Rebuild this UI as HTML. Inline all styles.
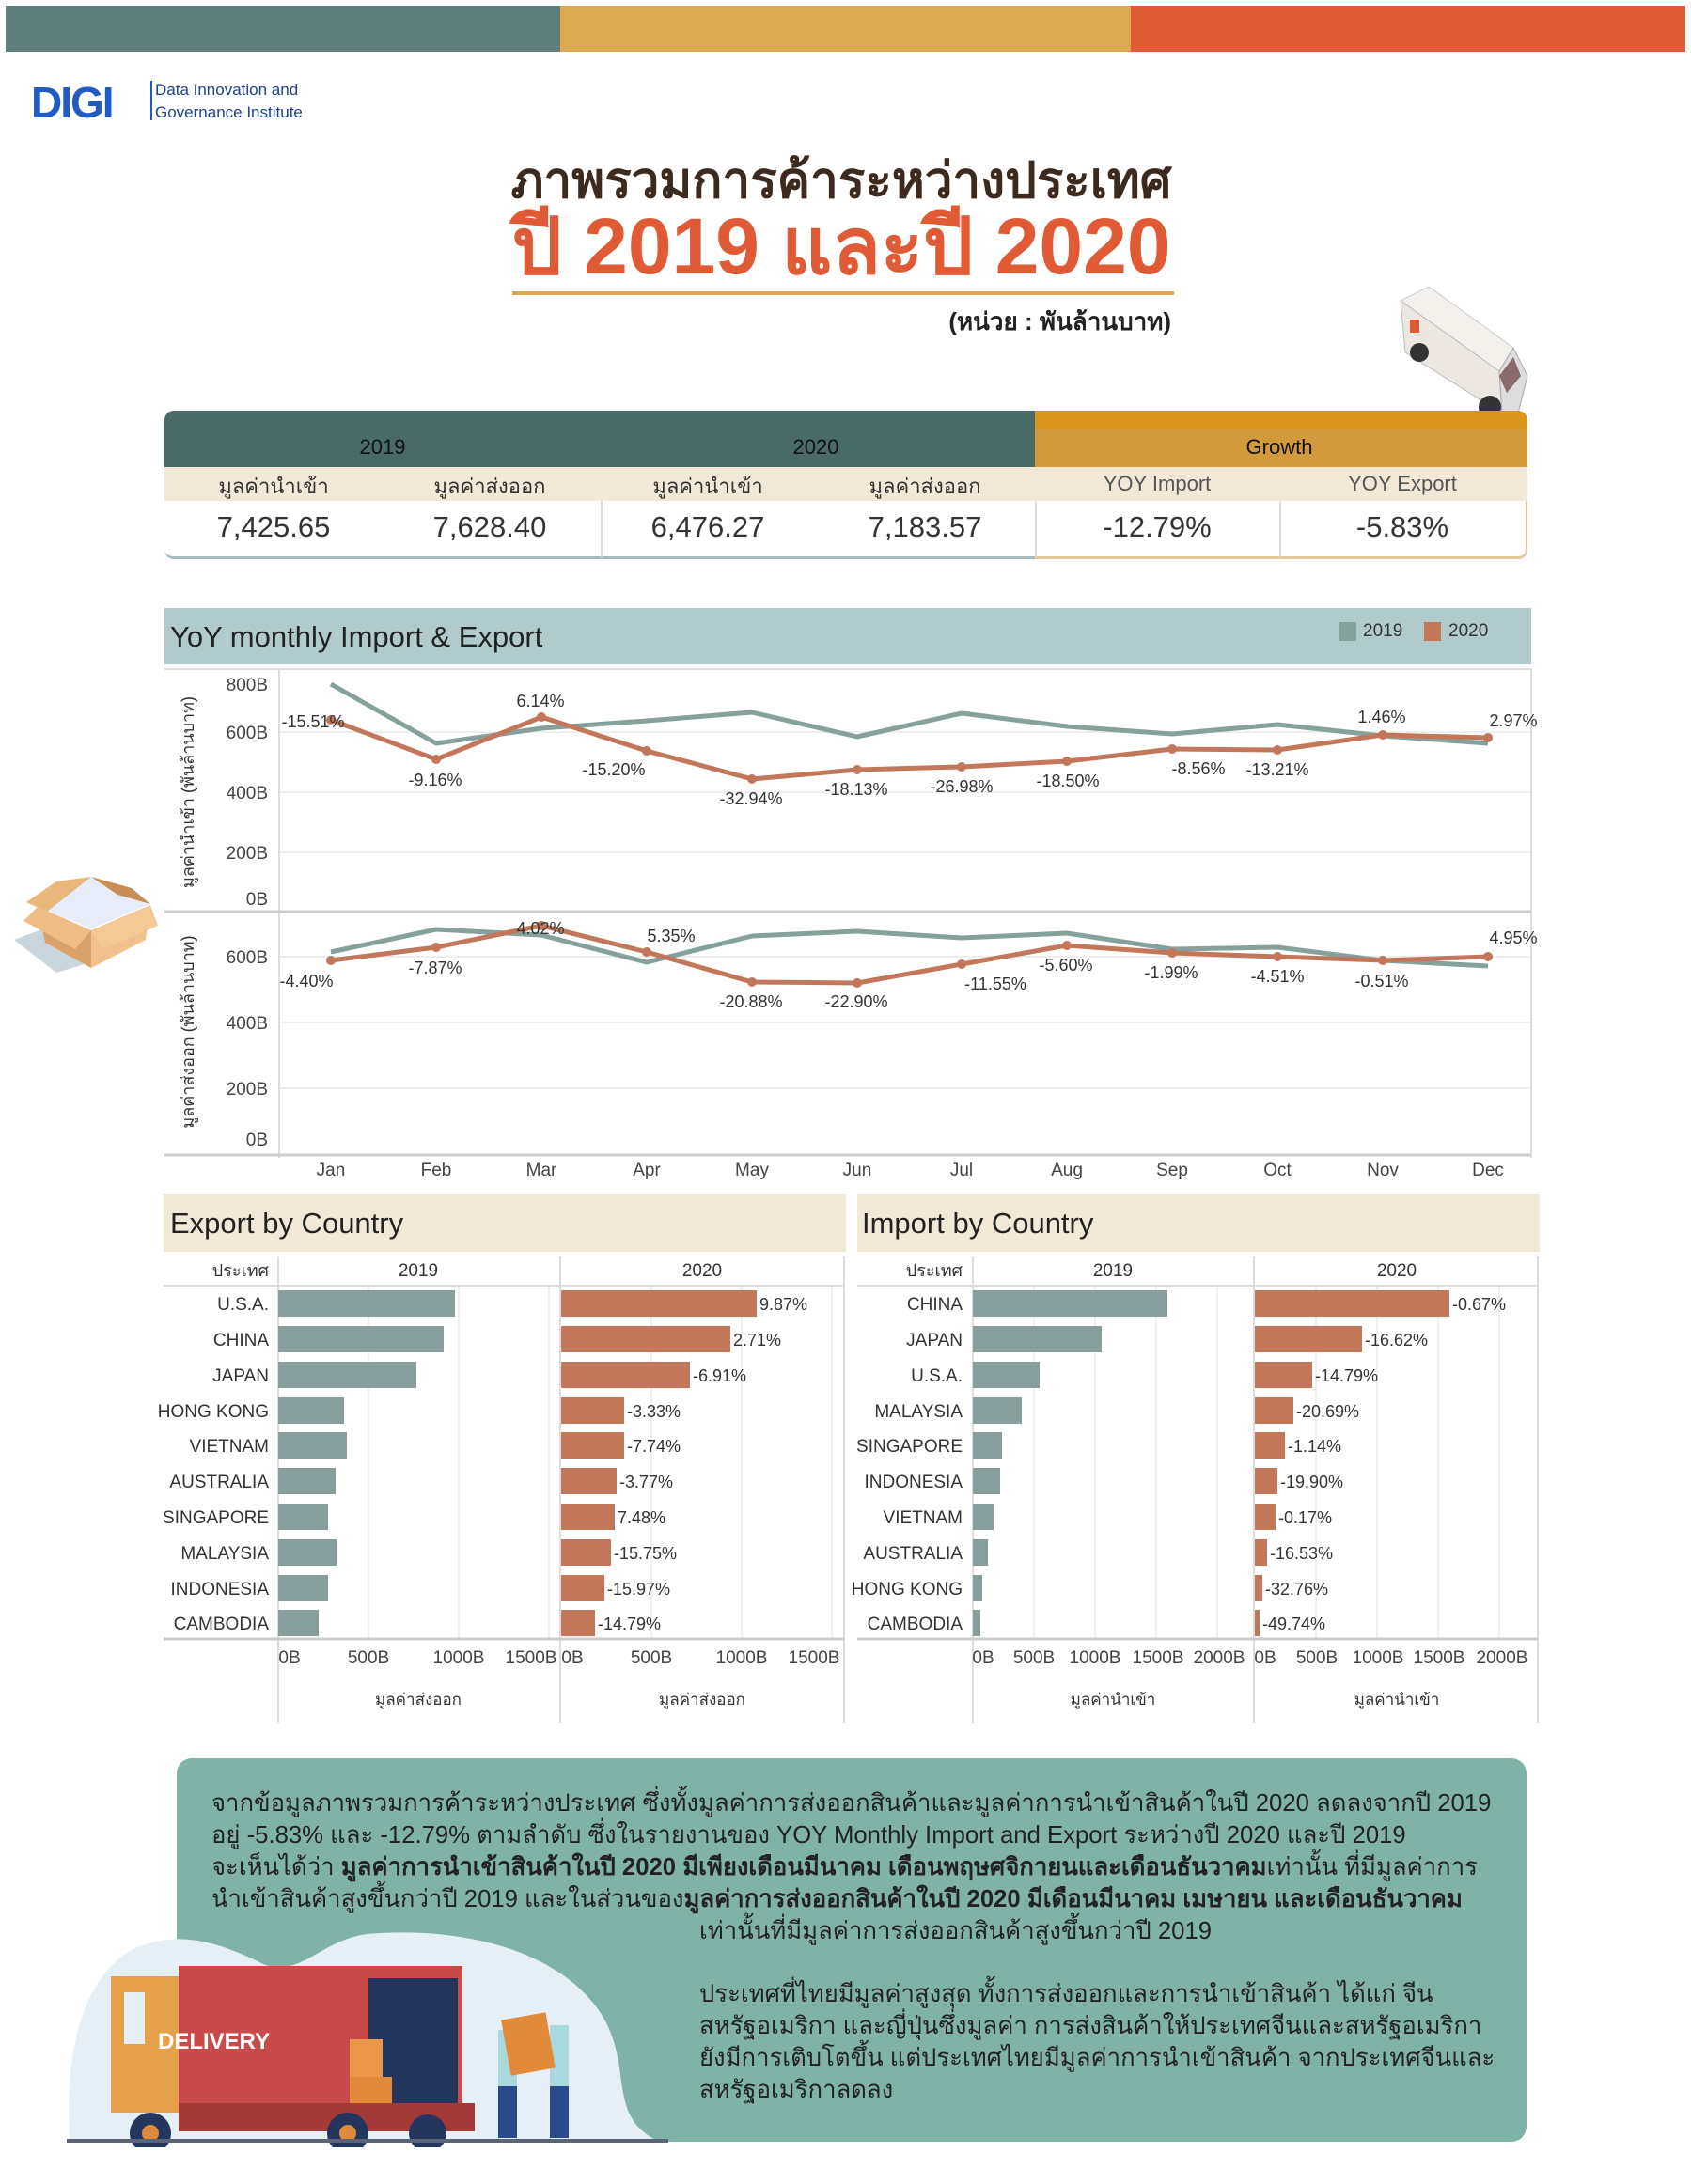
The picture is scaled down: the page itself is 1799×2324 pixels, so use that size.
<!DOCTYPE html>
<html><head><meta charset="utf-8">
<style>
*{margin:0;padding:0;box-sizing:border-box}
body{width:1799px;height:2324px;background:#fff;position:relative;overflow:hidden;font-family:"Liberation Sans",sans-serif;color:#333}
.a{position:absolute;white-space:nowrap}
.n{font-family:"Liberation Sans Narrow","Liberation Sans",sans-serif}
.c{transform:translateX(-50%)}
.r{transform:translateX(-100%)}
.p{position:absolute;white-space:nowrap;font-size:25.7px;color:#222;left:225px;font-family:"Liberation Sans Narrow","Liberation Sans",sans-serif}
</style></head><body>
<!-- top bars -->
<div class="a" style="left:6px;top:6px;width:590px;height:49px;background:#5e807d"></div>
<div class="a" style="left:596px;top:6px;width:607px;height:49px;background:#dcaa4e"></div>
<div class="a" style="left:1203px;top:6px;width:590px;height:49px;background:#e05a35"></div>

<!-- logo -->
<div class="a" style="left:33px;top:82px;font:bold 46px 'Liberation Sans',sans-serif;color:#1f5bc2;letter-spacing:-2px">DIGI</div>
<div class="a" style="left:160px;top:86px;width:2px;height:42px;background:#1f5bc2"></div>
<div class="a n" style="left:165px;top:84px;font-size:17px;color:#1f3f8f;line-height:24px">Data Innovation and<br>Governance Institute</div>

<!-- title -->
<div class="a c" style="left:895px;top:150px;font-size:53px;font-weight:bold;color:#3d2a1f;font-family:'Liberation Sans Narrow','Liberation Sans',sans-serif">ภาพรวมการค้าระหว่างประเทศ</div>
<div class="a c" style="left:895px;top:212px;font-size:84px;font-weight:bold;color:#e05a35;font-family:'Liberation Sans Narrow','Liberation Sans',sans-serif;line-height:100px">ปี 2019 และปี 2020</div>
<div class="a" style="left:545px;top:310px;width:704px;height:4px;background:#dcaa4e"></div>
<div class="a r" style="left:1246px;top:322px;font-size:26px;font-weight:bold;color:#222">(หน่วย : พันล้านบาท)</div>

<!-- van -->
<svg class="a" style="left:1470px;top:300px" width="180" height="160">
<polygon points="20,20 50,5 140,70 125,95" fill="#f4f1ec" stroke="#ccc"/>
<polygon points="20,20 125,95 128,140 25,75" fill="#ece8e1" stroke="#bbb"/>
<polygon points="125,95 140,70 155,100 145,140 128,140" fill="#ddd" stroke="#aaa"/>
<rect x="30" y="40" width="10" height="14" fill="#e05a35"/>
<circle cx="40" cy="75" r="10" fill="#333"/><circle cx="115" cy="133" r="12" fill="#333"/>
<polygon points="125,100 140,80 148,100 133,118" fill="#8a6a6a"/>
</svg>

<!-- table -->
<div class="a" style="left:175px;top:437px;width:926px;height:60px;background:#486b68;border-radius:10px 0 0 0"></div>
<div class="a" style="left:1101px;top:437px;width:524px;height:20px;background:#d9961c;border-radius:0 10px 0 0"></div>
<div class="a" style="left:1101px;top:457px;width:524px;height:40px;background:#d39a3c"></div>
<div class="a" style="left:175px;top:497px;width:1450px;height:36px;background:#f2e8d8"></div>
<div class="a" style="left:175px;top:533px;width:1450px;height:62px;background:#fff;border-bottom:3px solid #a8bcc0;border-radius:0 0 10px 10px"></div>
<div class="a" style="left:1101px;top:533px;width:524px;height:62px;border-bottom:3px solid #e3c99a;border-right:2px solid #e3c99a;border-radius:0 0 10px 0"></div>
<div class="a" style="left:639px;top:533px;width:2px;height:60px;background:#ddd"></div>
<div class="a" style="left:1101px;top:533px;width:2px;height:60px;background:#ddd"></div>
<div class="a" style="left:1361px;top:533px;width:2px;height:60px;background:#ddd"></div>
<div class="a c" style="left:407px;top:463px;font-size:22px;color:#111">2019</div>
<div class="a c" style="left:868px;top:463px;font-size:22px;color:#111">2020</div>
<div class="a c" style="left:1361px;top:463px;font-size:22px;color:#111">Growth</div>
<div class="a c" style="left:291px;top:500px;font-size:22px">มูลค่านำเข้า</div>
<div class="a c" style="left:521px;top:500px;font-size:22px">มูลค่าส่งออก</div>
<div class="a c" style="left:753px;top:500px;font-size:22px">มูลค่านำเข้า</div>
<div class="a c" style="left:984px;top:500px;font-size:22px">มูลค่าส่งออก</div>
<div class="a c" style="left:1231px;top:502px;font-size:22px;color:#555">YOY Import</div>
<div class="a c" style="left:1492px;top:502px;font-size:22px;color:#555">YOY Export</div>
<div class="a c" style="left:291px;top:543px;font-size:31px">7,425.65</div>
<div class="a c" style="left:521px;top:543px;font-size:31px">7,628.40</div>
<div class="a c" style="left:753px;top:543px;font-size:31px">6,476.27</div>
<div class="a c" style="left:984px;top:543px;font-size:31px">7,183.57</div>
<div class="a c" style="left:1231px;top:543px;font-size:31px">-12.79%</div>
<div class="a c" style="left:1492px;top:543px;font-size:31px">-5.83%</div>

<!-- line chart header -->
<div class="a" style="left:175px;top:647px;width:1454px;height:60px;background:#b1cbcd"></div>
<div class="a" style="left:181px;top:660px;font-size:31px;color:#222">YoY monthly Import &amp; Export</div>
<div class="a" style="left:1425px;top:662px;width:18px;height:20px;background:#86a09c"></div>
<div class="a" style="left:1450px;top:661px;font-size:19px">2019</div>
<div class="a" style="left:1515px;top:662px;width:18px;height:20px;background:#c2775b"></div>
<div class="a" style="left:1541px;top:661px;font-size:19px">2020</div>

<!-- box icon -->
<svg class="a" style="left:0;top:900px" width="200" height="160">
<polygon points="15,100 55,85 110,120 60,135" fill="#c9d6de"/>
<polygon points="28,60 97,33 160,62 97,88" fill="#e8ecf8"/>
<polygon points="40,65 97,90 97,130 48,103" fill="#d8a26a"/>
<polygon points="97,90 160,63 155,100 97,130" fill="#f2c08c"/>
<polygon points="28,60 60,38 97,33 50,70" fill="#e9b67c"/>
<polygon points="97,33 140,45 160,62 125,52" fill="#c98e55"/>
<polygon points="40,65 97,90 80,110 25,80" fill="#efbd87"/>
<polygon points="97,90 160,63 168,85 110,110" fill="#f5c996"/>
</svg>

<!-- line chart svg -->
<svg class="a" style="left:0;top:0" width="1799" height="1300" font-family="Liberation Sans Narrow, Liberation Sans, sans-serif">
<g stroke="#eee" stroke-width="2">
<line x1="297" y1="779" x2="1629" y2="779"/><line x1="297" y1="843" x2="1629" y2="843"/><line x1="297" y1="907" x2="1629" y2="907"/>
<line x1="297" y1="1018" x2="1629" y2="1018"/><line x1="297" y1="1088" x2="1629" y2="1088"/><line x1="297" y1="1158" x2="1629" y2="1158"/>
</g>
<line x1="175" y1="712" x2="1629" y2="712" stroke="#ddd" stroke-width="2"/>
<line x1="297" y1="712" x2="297" y2="1232" stroke="#ddd" stroke-width="2"/>
<line x1="1629" y1="712" x2="1629" y2="1232" stroke="#ddd" stroke-width="2"/>
<line x1="175" y1="970" x2="1629" y2="970" stroke="#ccc" stroke-width="3"/>
<line x1="175" y1="1229" x2="1629" y2="1229" stroke="#ccc" stroke-width="3"/>
<g font-size="19" fill="#444" text-anchor="end">
<text x="285" y="735">800B</text><text x="285" y="786">600B</text><text x="285" y="850">400B</text><text x="285" y="914">200B</text><text x="285" y="963">0B</text>
<text x="285" y="1025">600B</text><text x="285" y="1095">400B</text><text x="285" y="1165">200B</text><text x="285" y="1219">0B</text>
</g>
<text transform="translate(206,843) rotate(-90)" font-size="18" fill="#333" text-anchor="middle">มูลค่านำเข้า (พันล้านบาท)</text>
<text transform="translate(206,1098) rotate(-90)" font-size="18" fill="#333" text-anchor="middle">มูลค่าส่งออก (พันล้านบาท)</text>
<g fill="none" stroke-width="5" stroke-linejoin="round">
<polyline stroke="#86a09c" points="352,728 464,791 576,775 688,767 800,758 912,784 1023,759 1135,773 1247,781 1359,771 1471,783 1583,791"/>
<polyline stroke="#c2775b" points="352,766 464,808 576,763 688,799 800,829 912,819 1023,816 1135,810 1247,797 1359,798 1471,782 1583,785"/>
<polyline stroke="#86a09c" points="352,1013 464,989 576,995 688,1024 800,996 912,991 1023,998 1135,993 1247,1010 1359,1008 1471,1022 1583,1028"/>
<polyline stroke="#c2775b" points="352,1022 464,1008 576,985 688,1013 800,1045 912,1046 1023,1026 1135,1006 1247,1014 1359,1018 1471,1022 1583,1018"/>
</g>
<g fill="#c2775b">
<circle cx="352" cy="766" r="5"/><circle cx="464" cy="808" r="5"/><circle cx="576" cy="763" r="5"/><circle cx="688" cy="799" r="5"/><circle cx="800" cy="829" r="5"/><circle cx="912" cy="819" r="5"/><circle cx="1023" cy="816" r="5"/><circle cx="1135" cy="810" r="5"/><circle cx="1247" cy="797" r="5"/><circle cx="1359" cy="798" r="5"/><circle cx="1471" cy="782" r="5"/><circle cx="1583" cy="785" r="5"/>
<circle cx="352" cy="1022" r="5"/><circle cx="464" cy="1008" r="5"/><circle cx="576" cy="985" r="5"/><circle cx="688" cy="1013" r="5"/><circle cx="800" cy="1045" r="5"/><circle cx="912" cy="1046" r="5"/><circle cx="1023" cy="1026" r="5"/><circle cx="1135" cy="1006" r="5"/><circle cx="1247" cy="1014" r="5"/><circle cx="1359" cy="1018" r="5"/><circle cx="1471" cy="1022" r="5"/><circle cx="1583" cy="1018" r="5"/>
</g>
<g font-size="18" fill="#333" text-anchor="middle">
<text x="333" y="774">-15.51%</text><text x="463" y="836">-9.16%</text><text x="575" y="752">6.14%</text><text x="653" y="825">-15.20%</text><text x="799" y="856">-32.94%</text><text x="911" y="846">-18.13%</text><text x="1023" y="843">-26.98%</text><text x="1136" y="837">-18.50%</text><text x="1275" y="824">-8.56%</text><text x="1359" y="825">-13.21%</text><text x="1470" y="769">1.46%</text><text x="1610" y="773">2.97%</text>
<text x="326" y="1050">-4.40%</text><text x="463" y="1036">-7.87%</text><text x="575" y="994">4.02%</text><text x="714" y="1002">5.35%</text><text x="799" y="1072">-20.88%</text><text x="911" y="1072">-22.90%</text><text x="1059" y="1053">-11.55%</text><text x="1134" y="1033">-5.60%</text><text x="1246" y="1041">-1.99%</text><text x="1359" y="1045">-4.51%</text><text x="1470" y="1050">-0.51%</text><text x="1610" y="1004">4.95%</text>
</g>
<g font-size="19" fill="#444" text-anchor="middle">
<text x="352" y="1251">Jan</text><text x="464" y="1251">Feb</text><text x="576" y="1251">Mar</text><text x="688" y="1251">Apr</text><text x="800" y="1251">May</text><text x="912" y="1251">Jun</text><text x="1023" y="1251">Jul</text><text x="1135" y="1251">Aug</text><text x="1247" y="1251">Sep</text><text x="1359" y="1251">Oct</text><text x="1471" y="1251">Nov</text><text x="1583" y="1251">Dec</text>
</g>
</svg>

<!-- bar charts -->
<div class="a" style="left:174px;top:1271px;width:726px;height:61px;background:#f2e8d8"></div>
<div class="a" style="left:912px;top:1271px;width:726px;height:61px;background:#f2e8d8"></div>
<div class="a" style="left:181px;top:1284px;font-size:31px;color:#222">Export by Country</div>
<div class="a" style="left:917px;top:1284px;font-size:31px;color:#222">Import by Country</div>
<svg class="a" style="left:0;top:1330px" width="1799" height="520" font-family="Liberation Sans Narrow, Liberation Sans, sans-serif">
<g stroke="#f0f0f0" stroke-width="2">
<line x1="392" y1="38" x2="392" y2="414"/><line x1="488" y1="38" x2="488" y2="414"/><line x1="584" y1="38" x2="584" y2="414"/>
<line x1="693" y1="38" x2="693" y2="414"/><line x1="789" y1="38" x2="789" y2="414"/><line x1="885" y1="38" x2="885" y2="414"/>
<line x1="1100" y1="38" x2="1100" y2="414"/><line x1="1165" y1="38" x2="1165" y2="414"/><line x1="1230" y1="38" x2="1230" y2="414"/><line x1="1295" y1="38" x2="1295" y2="414"/>
<line x1="1400" y1="38" x2="1400" y2="414"/><line x1="1465" y1="38" x2="1465" y2="414"/><line x1="1530" y1="38" x2="1530" y2="414"/><line x1="1595" y1="38" x2="1595" y2="414"/>
</g>
<g stroke="#ddd" stroke-width="2">
<line x1="296" y1="7" x2="296" y2="503"/><line x1="596" y1="7" x2="596" y2="503"/><line x1="898" y1="7" x2="898" y2="503"/>
<line x1="1035" y1="7" x2="1035" y2="503"/><line x1="1334" y1="7" x2="1334" y2="503"/><line x1="1636" y1="7" x2="1636" y2="503"/>
<line x1="174" y1="38" x2="898" y2="38"/><line x1="912" y1="38" x2="1636" y2="38"/>
</g>
<g stroke="#ccc" stroke-width="3"><line x1="174" y1="414" x2="898" y2="414"/><line x1="912" y1="414" x2="1636" y2="414"/></g>
<g font-size="19" fill="#333" text-anchor="middle">
<text x="445" y="28">2019</text><text x="747" y="28">2020</text><text x="1184" y="28">2019</text><text x="1486" y="28">2020</text>
<text x="445" y="484" font-size="17">มูลค่าส่งออก</text><text x="747" y="484" font-size="17">มูลค่าส่งออก</text><text x="1184" y="484" font-size="17">มูลค่านำเข้า</text><text x="1486" y="484" font-size="17">มูลค่านำเข้า</text>
</g>
<g font-size="18" fill="#333" text-anchor="end"><text x="286" y="28">ประเทศ</text><text x="1024" y="28">ประเทศ</text></g>
<g font-size="19" fill="#444" text-anchor="middle">
<text x="308" y="440">0B</text><text x="392" y="440">500B</text><text x="488" y="440">1000B</text><text x="565" y="440">1500B</text>
<text x="609" y="440">0B</text><text x="693" y="440">500B</text><text x="789" y="440">1000B</text><text x="866" y="440">1500B</text>
<text x="1046" y="440">0B</text><text x="1100" y="440">500B</text><text x="1165" y="440">1000B</text><text x="1232" y="440">1500B</text><text x="1297" y="440">2000B</text>
<text x="1346" y="440">0B</text><text x="1401" y="440">500B</text><text x="1466" y="440">1000B</text><text x="1531" y="440">1500B</text><text x="1598" y="440">2000B</text>
</g>
<g font-size="19" fill="#333" text-anchor="end">
<text x="286" y="64">U.S.A.</text><text x="286" y="102">CHINA</text><text x="286" y="140">JAPAN</text><text x="286" y="178">HONG KONG</text><text x="286" y="215">VIETNAM</text><text x="286" y="253">AUSTRALIA</text><text x="286" y="291">SINGAPORE</text><text x="286" y="329">MALAYSIA</text><text x="286" y="367">INDONESIA</text><text x="286" y="404">CAMBODIA</text>
<text x="1024" y="64">CHINA</text><text x="1024" y="102">JAPAN</text><text x="1024" y="140">U.S.A.</text><text x="1024" y="178">MALAYSIA</text><text x="1024" y="215">SINGAPORE</text><text x="1024" y="253">INDONESIA</text><text x="1024" y="291">VIETNAM</text><text x="1024" y="329">AUSTRALIA</text><text x="1024" y="367">HONG KONG</text><text x="1024" y="404">CAMBODIA</text>
</g>
<g fill="#879e9c">
<rect x="296" y="43" width="188" height="28"/><rect x="296" y="81" width="176" height="28"/><rect x="296" y="119" width="147" height="28"/><rect x="296" y="157" width="70" height="28"/><rect x="296" y="194" width="73" height="28"/><rect x="296" y="232" width="61" height="28"/><rect x="296" y="270" width="53" height="28"/><rect x="296" y="308" width="62" height="28"/><rect x="296" y="346" width="53" height="28"/><rect x="296" y="383" width="43" height="28"/>
<rect x="1035" y="43" width="207" height="28"/><rect x="1035" y="81" width="137" height="28"/><rect x="1035" y="119" width="71" height="28"/><rect x="1035" y="157" width="52" height="28"/><rect x="1035" y="194" width="31" height="28"/><rect x="1035" y="232" width="29" height="28"/><rect x="1035" y="270" width="22" height="28"/><rect x="1035" y="308" width="16" height="28"/><rect x="1035" y="346" width="10" height="28"/><rect x="1035" y="383" width="8" height="28"/>
</g>
<g fill="#c2775b">
<rect x="597" y="43" width="208" height="28"/><rect x="597" y="81" width="180" height="28"/><rect x="597" y="119" width="137" height="28"/><rect x="597" y="157" width="67" height="28"/><rect x="597" y="194" width="67" height="28"/><rect x="597" y="232" width="59" height="28"/><rect x="597" y="270" width="57" height="28"/><rect x="597" y="308" width="53" height="28"/><rect x="597" y="346" width="46" height="28"/><rect x="597" y="383" width="36" height="28"/>
<rect x="1335" y="43" width="207" height="28"/><rect x="1335" y="81" width="114" height="28"/><rect x="1335" y="119" width="61" height="28"/><rect x="1335" y="157" width="41" height="28"/><rect x="1335" y="194" width="32" height="28"/><rect x="1335" y="232" width="24" height="28"/><rect x="1335" y="270" width="22" height="28"/><rect x="1335" y="308" width="13" height="28"/><rect x="1335" y="346" width="8" height="28"/><rect x="1335" y="383" width="5" height="28"/>
</g>
<g font-size="18" fill="#333">
<text x="808" y="64">9.87%</text><text x="780" y="102">2.71%</text><text x="737" y="140">-6.91%</text><text x="667" y="178">-3.33%</text><text x="667" y="215">-7.74%</text><text x="659" y="253">-3.77%</text><text x="657" y="291">7.48%</text><text x="653" y="329">-15.75%</text><text x="646" y="367">-15.97%</text><text x="636" y="404">-14.79%</text>
<text x="1545" y="64">-0.67%</text><text x="1452" y="102">-16.62%</text><text x="1399" y="140">-14.79%</text><text x="1379" y="178">-20.69%</text><text x="1370" y="215">-1.14%</text><text x="1362" y="253">-19.90%</text><text x="1360" y="291">-0.17%</text><text x="1351" y="329">-16.53%</text><text x="1346" y="367">-32.76%</text><text x="1343" y="404">-49.74%</text>
</g>
</svg>

<!-- text box -->
<div class="a" style="left:188px;top:1871px;width:1436px;height:408px;background:#80b3a8;border-radius:16px"></div>
<svg class="a" style="left:60px;top:2050px" width="700" height="235">
<path d="M14,228 C10,150 20,60 80,25 C130,0 180,20 220,40 C260,55 280,15 330,8 C420,0 520,20 570,80 C620,140 580,200 640,228 Z" fill="#e6eff6"/>
<rect x="58" y="53" width="80" height="145" fill="#e6a04a"/>
<rect x="72" y="70" width="22" height="55" fill="#e6eff6"/>
<rect x="130" y="42" width="302" height="155" fill="#c94b49"/>
<rect x="332" y="55" width="95" height="135" fill="#24365e"/>
<rect x="312" y="160" width="45" height="30" fill="#e08a3a"/>
<rect x="312" y="120" width="35" height="40" fill="#e89848"/>
<rect x="130" y="188" width="315" height="30" fill="#a33a37"/>
<circle cx="100" cy="220" r="22" fill="#24365e"/><circle cx="100" cy="220" r="9" fill="#e08a3a"/>
<circle cx="310" cy="220" r="22" fill="#24365e"/><circle cx="310" cy="220" r="9" fill="#e08a3a"/>
<circle cx="395" cy="220" r="20" fill="#24365e"/>
<text x="108" y="130" font-family="Liberation Sans" font-weight="bold" font-size="24" fill="#fff">DELIVERY</text>
<rect x="470" y="110" width="20" height="60" fill="#a8dadd"/><rect x="470" y="170" width="20" height="55" fill="#2a4a8a"/>
<rect x="525" y="105" width="20" height="65" fill="#a8dadd"/><rect x="525" y="170" width="20" height="55" fill="#2a4a8a"/>
<rect x="478" y="95" width="48" height="60" fill="#e08a3a" transform="rotate(-10 502 125)"/>
<rect x="11" y="226" width="640" height="4" fill="#5a6378"/>
</svg>
<div class="p" style="top:1898px">จากข้อมูลภาพรวมการค้าระหว่างประเทศ ซึ่งทั้งมูลค่าการส่งออกสินค้าและมูลค่าการนำเข้าสินค้าในปี 2020 ลดลงจากปี 2019</div>
<div class="p" style="top:1932px">อยู่ -5.83% และ -12.79% ตามลำดับ ซึ่งในรายงานของ YOY Monthly Import and Export ระหว่างปี 2020 และปี 2019</div>
<div class="p" style="top:1966px">จะเห็นได้ว่า <b>มูลค่าการนำเข้าสินค้าในปี 2020 มีเพียงเดือนมีนาคม เดือนพฤษศจิกายนและเดือนธันวาคม</b>เท่านั้น ที่มีมูลค่าการ</div>
<div class="p" style="top:2000px">นำเข้าสินค้าสูงขึ้นกว่าปี 2019 และในส่วนของ<b>มูลค่าการส่งออกสินค้าในปี 2020 มีเดือนมีนาคม เมษายน และเดือนธันวาคม</b></div>
<div class="p" style="top:2034px;left:744px">เท่านั้นที่มีมูลค่าการส่งออกสินค้าสูงขึ้นกว่าปี 2019</div>
<div class="p" style="top:2101px;left:744px">ประเทศที่ไทยมีมูลค่าสูงสุด ทั้งการส่งออกและการนำเข้าสินค้า ได้แก่ จีน</div>
<div class="p" style="top:2135px;left:744px">สหรัฐอเมริกา และญี่ปุ่นซึ่งมูลค่า การส่งสินค้าให้ประเทศจีนและสหรัฐอเมริกา</div>
<div class="p" style="top:2169px;left:744px">ยังมีการเติบโตขึ้น แต่ประเทศไทยมีมูลค่าการนำเข้าสินค้า จากประเทศจีนและ</div>
<div class="p" style="top:2203px;left:744px">สหรัฐอเมริกาลดลง</div>
</body></html>
